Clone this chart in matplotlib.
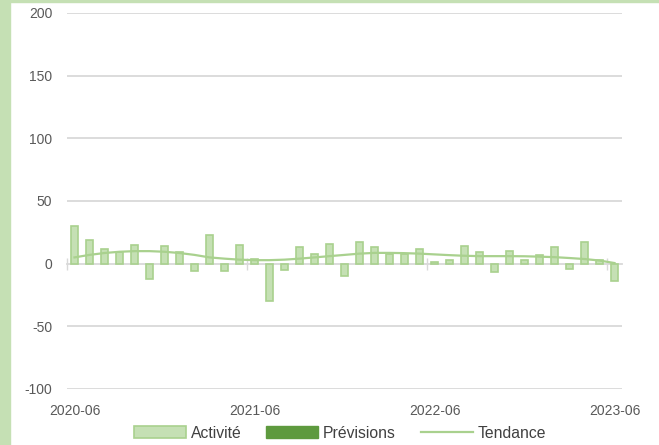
import numpy as np
import pandas as pd
import matplotlib
matplotlib.use("Agg")
import matplotlib.pyplot as plt
from matplotlib.patches import Patch, Rectangle
from matplotlib.lines import Line2D

plt.rcParams['font.family'] = ['Liberation Sans', 'DejaVu Sans']
plt.rcParams['axes.unicode_minus'] = False

# monthly categories 2020-06 .. 2023-06
months = [str(p) for p in pd.period_range('2020-06', '2023-06', freq='M')]

activite = [30, 19, 12, 9, 15, -12, 14, 9, -6, 23, -6, 15,
            4, -30, -5, 13, 8, 16, -10, 17, 13, 8, 8, 12,
            1, 3, 14, 9, -7, 10, 3, 7, 13, -4, 17, 3, -14]
previsions = []  # no forecast values yet
tendance = [5, 7, 8.5, 9.5, 10, 10, 9.5, 8.5, 7, 5, 4, 3.2,
            2.8, 2.8, 3.2, 4, 5, 6, 7, 8, 8.6, 8.6, 8.4, 8,
            7.4, 6.8, 6.3, 6, 6, 6, 5.9, 5.6, 5.2, 4.5, 3.7, 2.5, 0.5]

label_months = ['2020-06', '2021-06', '2022-06', '2023-06']

light = '#c5e0b4'
edge = '#a9d18e'
dark = '#5e9a3e'
grid_c = '#d9d9d9'
text_c = '#595959'

fig = plt.figure(figsize=(6.59, 4.45), dpi=100)
# green frame on the left / top
fig.patches.append(Rectangle((0, 0), 10 / 659, 1, transform=fig.transFigure,
                             color=light, zorder=0))
fig.patches.append(Rectangle((0, 1 - 2 / 445), 1, 2 / 445, transform=fig.transFigure,
                             color=light, zorder=0))

ax = fig.add_axes([67 / 659, 1 - 389 / 445, 555 / 659, 376 / 445])
x = np.arange(len(months))

ax.bar(x, activite, width=0.42, color=light, edgecolor=edge, linewidth=1.2, zorder=3)
ax.bar(np.arange(len(previsions)), previsions, width=0.42, color=dark, zorder=3)
ax.plot(x, tendance, color=edge, linewidth=1.6, zorder=4)

ax.set_xlim(-0.5, len(months) - 0.5)
ax.set_ylim(-100, 200)
ax.set_yticks(range(-100, 201, 50))
for v in range(-100, 201, 50):
    if v != 0:
        ax.axhline(v, color=grid_c, linewidth=1.3, zorder=1)

for s in ['top', 'right', 'left']:
    ax.spines[s].set_visible(False)
ax.spines['bottom'].set_position(('data', 0))
ax.spines['bottom'].set_color(grid_c)
ax.spines['bottom'].set_linewidth(1.3)
ax.spines['bottom'].set_zorder(2)

# yearly boundary marks on the zero line
idx = [months.index(m) for m in label_months]
ax.set_xticks([i - 0.5 for i in idx])
ax.tick_params(axis='x', direction='inout', length=8, width=1, color=grid_c,
               labelbottom=False)
ax.tick_params(axis='y', length=0, pad=10.5, labelsize=10, labelcolor=text_c)

sec = ax.secondary_xaxis('bottom')
sec.set_xticks(idx)
sec.set_xticklabels(label_months)
sec.tick_params(length=0, pad=11, labelsize=10, labelcolor=text_c)
sec.spines['bottom'].set_visible(False)

handles = [Patch(facecolor=light, edgecolor=edge, linewidth=1.2),
           Patch(facecolor=dark, edgecolor=dark),
           Line2D([0], [0], color=edge, linewidth=1.6)]
fig.legend(handles, ['Activité', 'Prévisions', 'Tendance'], loc='center',
           bbox_to_anchor=(340 / 659, 1 - 433 / 445), ncol=3, frameon=False,
           fontsize=11.3, handlelength=3.3, handleheight=0.8, columnspacing=1.6,
           handletextpad=0.3, labelcolor='#404040')

fig.savefig('out.png', dpi=100)
